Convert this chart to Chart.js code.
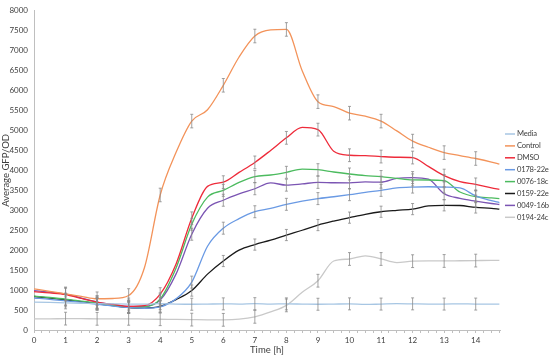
<!DOCTYPE html>
<html>
<head>
<meta charset="utf-8">
<script src="https://cdn.jsdelivr.net/npm/chart.js@4.4.0/dist/chart.umd.min.js"></script>
<style>
  html, body { margin: 0; padding: 0; background: #fff; }
  #wrap { width: 550px; height: 358px; position: relative; }
</style>
</head>
<body>
<div id="wrap"><canvas id="gfpChart"></canvas></div>
<script>
// time points [h]
const hours = [0, 0.5, 1, 1.5, 2, 2.5, 3, 3.5, 4, 4.5, 5, 5.5, 6, 6.5, 7, 7.5, 8, 8.5, 9, 9.5,
  10, 10.5, 11, 11.5, 12, 12.5, 13, 13.5, 14, 14.5, 14.75];

const seriesNames = ["Media", "Control", "DMSO", "0178-22e", "0076-18c", "0159-22e", "0049-16b", "0194-24c"];

const media = [700, 690, 680, 670, 660, 655, 650, 650, 660, 650, 645, 650, 655, 650, 660, 650,
  655, 650, 645, 650, 655, 640, 650, 660, 655, 650, 650, 655, 650, 650, 650];
const control = [1030, 970, 906, 845, 783, 790, 865, 1560, 3384, 4446, 5236, 5520, 6133, 6842, 7368, 7520,
  7533, 6500, 5723, 5600, 5434, 5360, 5236, 4990, 4735, 4580, 4446, 4372, 4298, 4210, 4157];
const dmso = [960, 930, 890, 790, 700, 640, 590, 610, 900, 1650, 2800, 3600, 3705, 3950, 4200, 4500,
  4816, 5080, 5022, 4480, 4380, 4370, 4347, 4330, 4322, 4100, 3870, 3720, 3650, 3560, 3525];
const c0178 = [800, 770, 730, 690, 640, 600, 565, 545, 580, 780, 1200, 2100, 2552, 2790, 2964, 3046,
  3150, 3230, 3293, 3340, 3392, 3450, 3500, 3560, 3582, 3590, 3580, 3560, 3360, 3240, 3194];
const c0076 = [850, 815, 775, 725, 675, 620, 575, 580, 780, 1550, 2650, 3330, 3500, 3700, 3846, 3885,
  3952, 4034, 4018, 3960, 3910, 3870, 3846, 3800, 3762, 3760, 3746, 3458, 3340, 3310, 3293];
const c0159 = [840, 800, 758, 710, 659, 610, 560, 550, 590, 760, 988, 1400, 1729, 2000, 2141, 2250,
  2380, 2500, 2630, 2730, 2816, 2900, 2964, 3000, 3030, 3110, 3125, 3120, 3071, 3050, 3030];
const c0049 = [988, 950, 906, 800, 700, 640, 593, 593, 750, 1400, 2400, 3050, 3252, 3410, 3540, 3688,
  3630, 3660, 3700, 3690, 3688, 3710, 3705, 3800, 3820, 3780, 3416, 3300, 3230, 3170, 3145];
const c0194 = [280, 280, 285, 285, 280, 280, 280, 275, 270, 265, 260, 255, 255, 270, 330, 453,
  617, 946, 1235, 1729, 1780, 1860, 1780, 1690, 1725, 1730, 1730, 1735, 1740, 1745, 1745];

// half-length of the error bars (same unit as the values)
const errorSize = [150, 170, 160, 150, 150, 140, 150, 160];

const seriesValues = [media, control, dmso, c0178, c0076, c0159, c0049, c0194];
const seriesColors = ["#a7c6e3", "#f3935a", "#ee2b3a", "#6a9ae4", "#4cbb5f", "#1a1a1a", "#7b55b3", "#c9c9c9"];

const fontFamily = "Lato, 'Liberation Sans', sans-serif";

const errorBars = {
  id: "errorBars",
  afterDatasetsDraw(chart) {
    const ctx = chart.ctx;
    const yScale = chart.scales.y;
    ctx.save();
    ctx.strokeStyle = "#8a8a8a";
    ctx.lineWidth = 0.8;
    chart.data.datasets.forEach((ds, di) => {
      const meta = chart.getDatasetMeta(di);
      ds.data.forEach((p, i) => {
        if (p.x === 0 || p.x % 1 !== 0) return;
        const x = meta.data[i].x;
        const top = yScale.getPixelForValue(p.y + errorSize[di]);
        const bot = yScale.getPixelForValue(p.y - errorSize[di]);
        ctx.beginPath();
        ctx.moveTo(x, top); ctx.lineTo(x, bot);
        ctx.moveTo(x - 1.5, top); ctx.lineTo(x + 1.5, top);
        ctx.moveTo(x - 1.5, bot); ctx.lineTo(x + 1.5, bot);
        ctx.stroke();
      });
    });
    ctx.restore();
  }
};

// legend drawn by hand so it sits where the original one does
const sideLegend = {
  id: "sideLegend",
  afterDraw(chart) {
    const ctx = chart.ctx;
    ctx.save();
    ctx.font = "7.6px " + fontFamily;
    if ("letterSpacing" in ctx) ctx.letterSpacing = "-0.2px";
    ctx.textBaseline = "middle";
    ctx.fillStyle = "#404040";
    chart.data.datasets.forEach((ds, i) => {
      const y = 134 + i * 11.9;
      ctx.strokeStyle = ds.borderColor;
      ctx.lineWidth = 1.5;
      ctx.beginPath();
      ctx.moveTo(505, y); ctx.lineTo(515, y);
      ctx.stroke();
      ctx.fillText(ds.label, 517, y);
    });
    ctx.restore();
  }
};

new Chart(document.getElementById("gfpChart"), {
  type: "line",
  data: {
    datasets: seriesNames.map((name, i) => ({
      label: name,
      data: hours.map((h, j) => ({ x: h, y: seriesValues[i][j] })),
      borderColor: seriesColors[i],
      backgroundColor: seriesColors[i],
      borderWidth: 1.3,
      pointRadius: 0,
      fill: false,
      cubicInterpolationMode: "monotone",
    })),
  },
  options: {
    responsive: true,
    maintainAspectRatio: false,
    animation: false,
    layout: { padding: { top: 6, right: 50, left: 0, bottom: 0 } },
    plugins: {
      legend: { display: false },
      tooltip: { enabled: false },
    },
    scales: {
      x: {
        type: "linear",
        min: 0,
        max: 14.77,
        border: { color: "#bfbfbf", width: 1 },
        grid: { drawOnChartArea: false, color: "#bfbfbf", tickLength: 3 },
        ticks: {
          stepSize: 0.25,
          autoSkip: false,
          includeBounds: false,
          maxRotation: 0,
          padding: 3,
          color: "#404040",
          font: { family: fontFamily, size: 8 },
          callback: (v) => (v % 1 === 0 ? String(v) : ""),
        },
        title: {
          display: true,
          text: "Time [h]",
          color: "#404040",
          font: { family: fontFamily, size: 9.5 },
          padding: { top: 0, bottom: 2 },
        },
        afterFit: (s) => { s.height = 28; },
      },
      y: {
        min: 0,
        max: 8000,
        border: { color: "#bfbfbf", width: 1 },
        grid: { display: false, drawTicks: false },
        ticks: {
          stepSize: 500,
          padding: 6,
          color: "#404040",
          font: { family: fontFamily, size: 8 },
          callback: (v) => String(v),
        },
        title: {
          display: true,
          text: "Average GFP/OD",
          color: "#404040",
          font: { family: fontFamily, size: 9.5 },
          padding: { top: 0, bottom: 0 },
        },
        afterFit: (s) => { s.width = 34; },
      },
    },
  },
  plugins: [errorBars, sideLegend],
});
</script>
</body>
</html>
